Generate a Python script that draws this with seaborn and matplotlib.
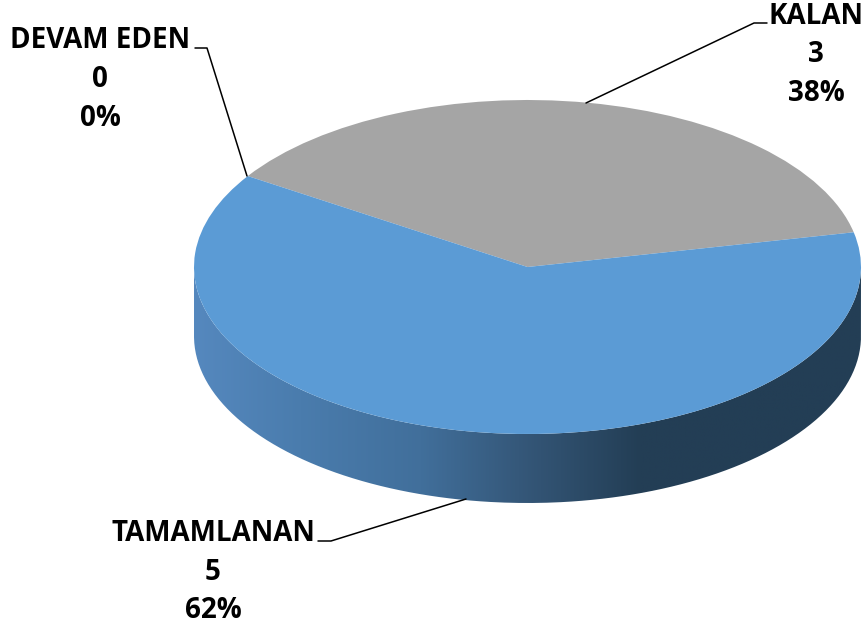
import numpy as np
import seaborn as sns
import matplotlib.pyplot as plt
from matplotlib.colors import LinearSegmentedColormap
from matplotlib.patches import PathPatch
from matplotlib.path import Path

# chart data
categories = ["KALAN", "DEVAM EDEN", "TAMAMLANAN"]
values = [3, 0, 5]
percents = ["38%", "0%", "62%"]
slice_colors = ["#a5a5a5", "#a5a5a5", "#5b9bd5"]

sns.set_theme(style="white")
plt.rcParams['font.family'] = ['Open Sans', 'DejaVu Sans']

W, H = 866, 631
CX, CY, RX, RY, DEPTH = 527.5, 267, 333.5, 167, 69


def to_data(x, y):
    # picture pixels -> pie units
    return (x - CX) / RX, (CY - y) / RY


fig = plt.figure(figsize=(W / 100, H / 100), dpi=100)
ax = fig.add_axes([0, 0, 1, 1])

# top of the pie, squashed by the axes limits
ax.pie(values, colors=slice_colors, startangle=12, radius=1, frame=True,
       wedgeprops={'linewidth': 0}, normalize=True)
ax.set_aspect('auto')
left, top = to_data(0, 0)
right, bottom = to_data(W, H)
ax.set_xlim(left, right)
ax.set_ylim(bottom, top)
ax.set_xticks([])
ax.set_yticks([])
sns.despine(ax=ax, left=True, bottom=True)

# side wall with the horizontal shading
t = np.linspace(np.pi, 2 * np.pi, 300)
d = DEPTH / RY
wall_x = np.concatenate([np.cos(t), np.cos(t[::-1])])
wall_y = np.concatenate([np.sin(t), np.sin(t[::-1]) - d])
wall = PathPatch(Path(np.column_stack([wall_x, wall_y])), fc='none', lw=0)
ax.add_patch(wall)
shade = LinearSegmentedColormap.from_list("wall", [
    (0.00, "#5588be"), (0.16, "#4a7cad"), (0.34, "#416f9b"),
    (0.50, "#345677"), (0.67, "#233e55"), (1.00, "#233e55")])
im = ax.imshow(np.linspace(0, 1, 256).reshape(1, -1), cmap=shade, aspect='auto',
               extent=[-1, 1, -1 - d, 0], zorder=0.5)
im.set_clip_path(wall)
ax.set_xlim(left, right)
ax.set_ylim(bottom, top)

# labels
label_pos = [(816, 55), (100, 79.5), (213, 572)]
for name, val, pct, (x, y) in zip(categories, values, percents, label_pos):
    tx, ty = to_data(x, y)
    ax.text(tx, ty, f"{name}\n{val}\n{pct}", ha='center', va='center', fontsize=20,
            fontweight='bold', color='black', linespacing=1.45)

# leader lines
leaders = [
    [(586, 103), (754, 23), (767, 23)],
    [(247, 176), (207, 48), (195, 48)],
    [(466, 499), (331, 541), (318, 541)],
]
for line in leaders:
    pts = np.array([to_data(x, y) for x, y in line])
    ax.plot(pts[:, 0], pts[:, 1], color='black', lw=1.1)

fig.savefig("out.png", dpi=100)
